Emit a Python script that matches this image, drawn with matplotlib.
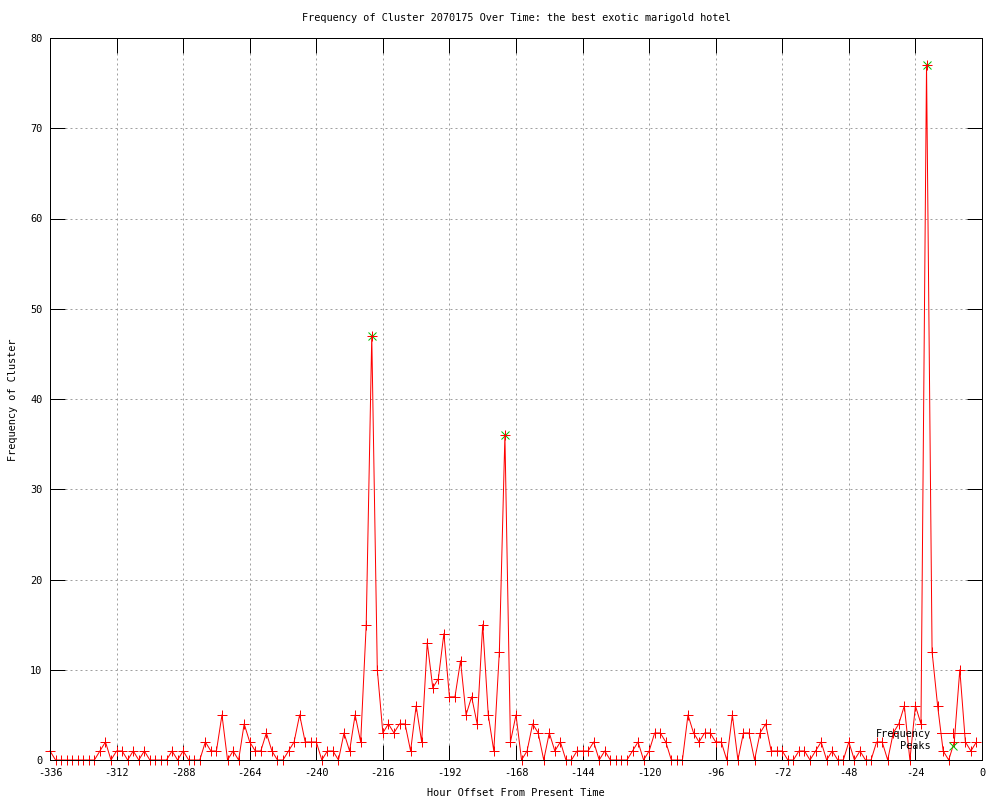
import matplotlib
matplotlib.use("Agg")
import matplotlib.pyplot as plt
from matplotlib.lines import Line2D

plt.rcParams['font.family'] = ['DejaVu Sans Mono', 'DejaVu Sans']

hours = list(range(-336, 0, 2))
frequency = [
    1, 0, 0, 0, 0, 0, 0, 0, 0, 1,   # -336 .. -318
    2, 0, 1, 1, 0, 1, 0, 1, 0, 0,   # -316 .. -298
    0, 0, 1, 0, 1, 0, 0, 0, 2, 1,   # -296 .. -278
    1, 5, 0, 1, 0, 4, 2, 1, 1, 3,   # -276 .. -258
    1, 0, 0, 1, 2, 5, 2, 2, 2, 0,   # -256 .. -238
    1, 1, 0, 3, 1, 5, 2, 15, 47, 10,  # -236 .. -218
    3, 4, 3, 4, 4, 1, 6, 2, 13, 8,  # -216 .. -198
    9, 14, 7, 7, 11, 5, 7, 4, 15, 5,  # -196 .. -178
    1, 12, 36, 2, 5, 0, 1, 4, 3, 0,  # -176 .. -158
    3, 1, 2, 0, 0, 1, 1, 1, 2, 0,   # -156 .. -138
    1, 0, 0, 0, 0, 1, 2, 0, 1, 3,   # -136 .. -118
    3, 2, 0, 0, 0, 5, 3, 2, 3, 3,   # -116 .. -98
    2, 2, 0, 5, 0, 3, 3, 0, 3, 4,   # -96 .. -78
    1, 1, 1, 0, 0, 1, 1, 0, 1, 2,   # -76 .. -58
    0, 1, 0, 0, 2, 0, 1, 0, 0, 2,   # -56 .. -38
    2, 0, 3, 4, 6, 0, 6, 4, 77, 12,  # -36 .. -18
    6, 1, 0, 2, 10, 2, 1, 2,        # -16 .. -2
]
peak_hours = [-220, -172, -20]
peak_values = [47, 36, 77]

x_ticks = list(range(-336, 1, 24))
y_ticks = list(range(0, 81, 10))

title = "Frequency of Cluster 2070175 Over Time: the best exotic marigold hotel"
xlabel = "Hour Offset From Present Time"
ylabel = "Frequency of Cluster"

RED = '#ff0000'
GREEN = '#00c000'
FS = 7.4
PX = 0.72

fig = plt.figure(figsize=(10, 8), dpi=100)
ax = fig.add_axes([0.050, 0.050, 0.932, 0.9025])

ax.plot(peak_hours, peak_values, color=GREEN, ls='none', marker='x', ms=5.5,
        mew=PX, label='Peaks', zorder=3, clip_on=False)
ax.plot(hours, frequency, color=RED, lw=PX, marker='+', ms=6.5, mew=PX,
        label='Frequency', zorder=4, clip_on=False)

ax.set_xlim(-336, 0)
ax.set_ylim(0, 80)
ax.set_xticks(x_ticks)
ax.set_yticks(y_ticks)
ax.set_xticklabels([str(t) for t in x_ticks])
ax.set_yticklabels([str(t) for t in y_ticks])
ax.tick_params(direction='in', length=10.8, width=PX, top=True, right=True,
               labelsize=FS, pad=5.5, colors='black')
for s in ax.spines.values():
    s.set_linewidth(PX)
    s.set_color('black')
    s.set_zorder(5)
ax.grid(True, color='#a0a0a0', lw=PX, ls=(0, (2, 3)), zorder=0)
ax.set_axisbelow(True)

handles = [
    Line2D([], [], color=RED, lw=PX, marker='+', ms=6.5, mew=PX),
    Line2D([], [], color=GREEN, ls='none', marker='x', ms=5.5, mew=PX),
]
leg = ax.legend(handles, ['Frequency', 'Peaks'], loc='lower right',
                bbox_to_anchor=(0.987, 0.012), frameon=False, markerfirst=False,
                fontsize=FS, handlelength=3.2, handletextpad=0.6,
                labelspacing=0.25, borderpad=0, borderaxespad=0, numpoints=1)
leg.set_zorder(6)

fig.text(0.516, 1 - 18 / 800, title, ha='center', va='center', fontsize=FS)
fig.text(0.516, 1 - 793 / 800, xlabel, ha='center', va='center', fontsize=FS)
fig.text(0.013, 0.5, ylabel, ha='center', va='center', rotation=90, fontsize=FS)

fig.savefig('out.png', dpi=100)
